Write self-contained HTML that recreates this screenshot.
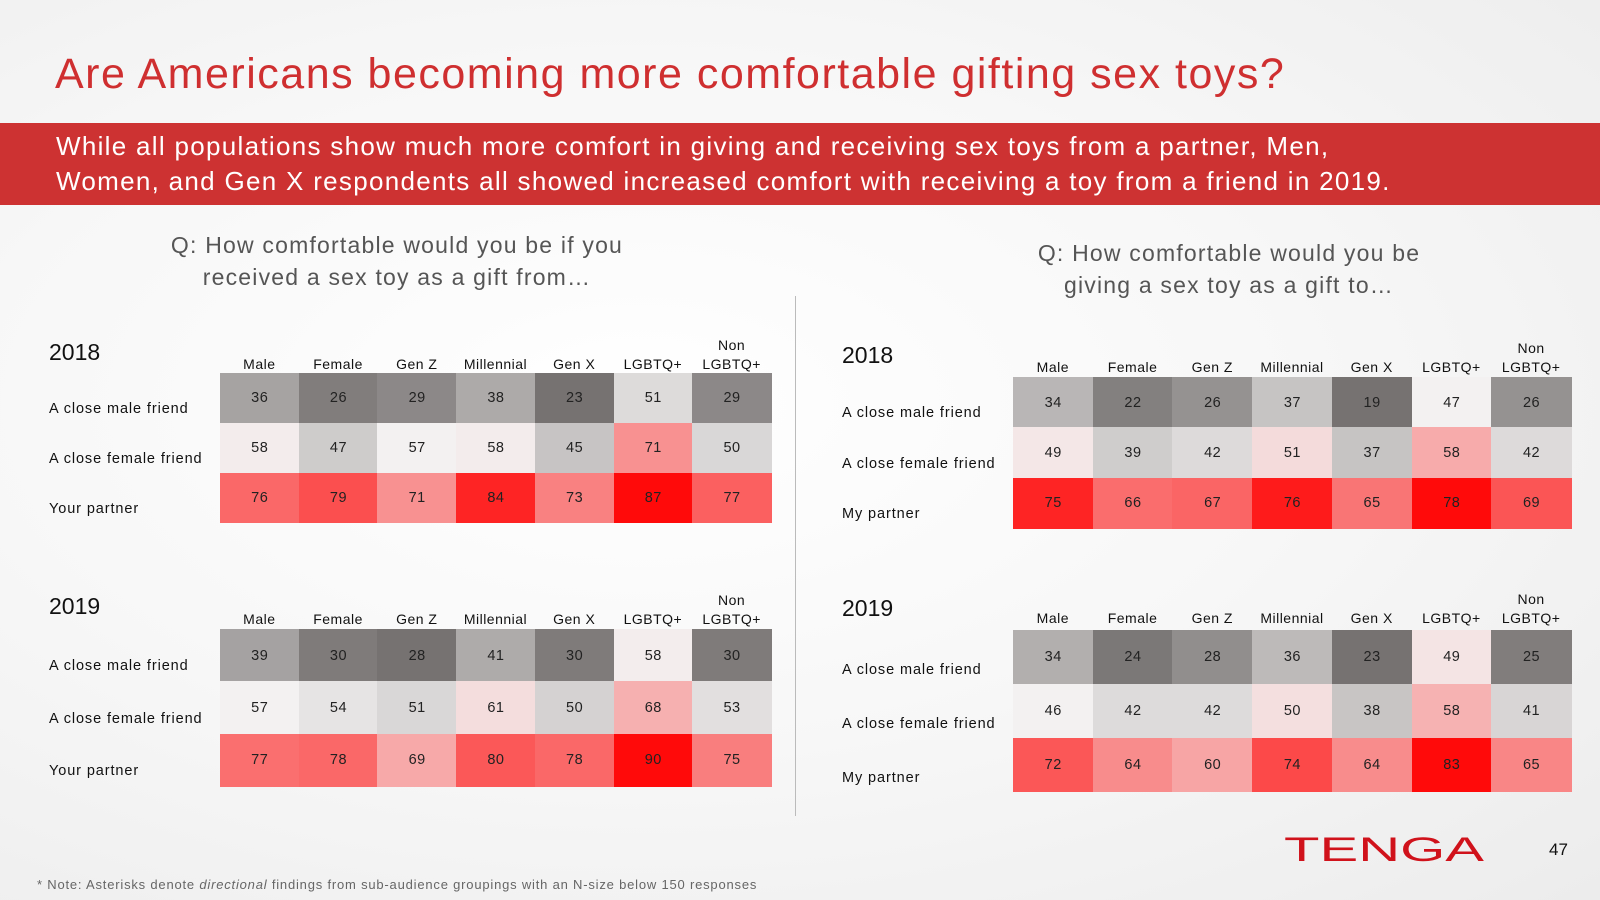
<!DOCTYPE html>
<html><head><meta charset="utf-8">
<style>
html,body{margin:0;padding:0}
body{width:1600px;height:900px;position:relative;overflow:hidden;font-family:"Liberation Sans",sans-serif;background:radial-gradient(ellipse at 40% 45%,#ffffff 0%,#f7f7f7 50%,#ececec 100%)}
.abs{position:absolute}
#title{left:55px;top:50px;font-size:43px;color:#cf2f30;letter-spacing:1.5px;white-space:nowrap}
#band{left:0;top:123px;width:1600px;height:82px;background:#cd3232}
#band div{position:absolute;left:56px;color:#fff;font-size:26px;white-space:nowrap;letter-spacing:1.3px}
.q{font-size:23px;color:#555;text-align:center;line-height:32px;letter-spacing:1.2px}
.year{font-size:23px;color:#111}
.rl{font-size:14.5px;color:#111;white-space:nowrap;letter-spacing:0.9px}
.ch{font-size:14px;color:#111;text-align:center;line-height:19px;letter-spacing:0.5px}
.cell{position:absolute;display:flex;align-items:center;justify-content:center;font-size:14.5px;color:#222;letter-spacing:0.5px}
</style></head><body>
<div class="abs" id="title">Are Americans becoming more comfortable gifting sex toys?</div>
<div class="abs" id="band">
<div style="top:8px">While all populations show much more comfort in giving and receiving sex toys from a partner, Men,</div>
<div style="top:43px">Women, and Gen X respondents all showed increased comfort with receiving a toy from a friend in 2019.</div>
</div>
<div class="abs q" style="left:147px;top:229px;width:500px">Q: How comfortable would you be if you<br>received a sex toy as a gift from…</div>
<div class="abs q" style="left:979px;top:237px;width:500px">Q: How comfortable would you be<br>giving a sex toy as a gift to…</div>
<div class="abs" style="left:795px;top:296px;width:1px;height:520px;background:#bbb"></div>
<div id="tables"></div>
<div class="abs" style="left:37px;top:877px;font-size:13px;color:#666;white-space:nowrap;letter-spacing:0.8px">* Note: Asterisks denote <i>directional</i> findings from sub-audience groupings with an N-size below 150 responses</div>
<svg class="abs" style="left:1284px;top:834px" width="205" height="30">
<text x="0" y="27" font-family="Liberation Sans, sans-serif" font-size="34" fill="#d0121b" textLength="200" lengthAdjust="spacingAndGlyphs">TENGA</text>
</svg>
<div class="abs" style="left:1549px;top:840px;font-size:17px;color:#111">47</div>
<script>
const columns = ["Male","Female","Gen Z","Millennial","Gen X","LGBTQ+","Non LGBTQ+"];
const rowsReceived = ["A close male friend","A close female friend","Your partner"];
const rowsGiving = ["A close male friend","A close female friend","My partner"];
const received2018 = [[36,26,29,38,23,51,29],[58,47,57,58,45,71,50],[76,79,71,84,73,87,77]];
const received2019 = [[39,30,28,41,30,58,30],[57,54,51,61,50,68,53],[77,78,69,80,78,90,75]];
const giving2018 = [[34,22,26,37,19,47,26],[49,39,42,51,37,58,42],[75,66,67,76,65,78,69]];
const giving2019 = [[34,24,28,36,23,49,25],[46,42,42,50,38,58,41],[72,64,60,74,64,83,65]];

function lerp(a,b,t){return a.map((v,i)=>Math.round(v+(b[i]-v)*t));}
function colorScale(vals){
  const s=[...vals].sort((a,b)=>a-b);
  const min=s[0],max=s[s.length-1];
  const mid=(s[Math.floor((s.length-1)/2)]+s[Math.ceil((s.length-1)/2)])/2;
  const lo=[118,114,113],mi=[243,241,241],hi=[255,10,10];
  return v=>{let c; if(v<=mid) c=lerp(lo,mi,(v-min)/(mid-min||1)); else c=lerp(mi,hi,Math.pow((v-mid)/(max-mid||1),1.15)); return `rgb(${c.join(',')})`;};
}
const host=document.getElementById('tables');
function mk(cls,style,text,name){
  const d=document.createElement('div');
  d.className='abs '+cls;
  d.style.cssText=style;
  d.innerHTML=text;
  
  
  host.appendChild(d);
  return d;
}
function table(cfg){
  const {data,rows,year,id}=cfg;
  const cw=(cfg.x1-cfg.x0)/columns.length, rh=(cfg.y1-cfg.y0)/rows.length;
  const sc=colorScale(data.flat());
  mk('year',`left:${cfg.yearX}px;top:${cfg.yearY}px`,year,id+'-year-label');
  columns.forEach((c,i)=>{
    const txt=c==="Non LGBTQ+"?"Non<br>LGBTQ+":c;
    const bottom=cfg.headY;
    const h=c==="Non LGBTQ+"?38:19;
    mk('ch',`left:${cfg.x0+i*cw}px;top:${bottom-h}px;width:${cw}px`,txt,id+'-column-header');
  });
  rows.forEach((r,j)=>{
    mk('rl',`left:${cfg.labelX}px;top:${cfg.y0+j*rh+rh/2+cfg.labelOff-9}px`,r,id+'-row-label');
    data[j].forEach((v,i)=>{
      mk('cell',`left:${cfg.x0+i*cw}px;top:${cfg.y0+j*rh}px;width:${Math.ceil(cw)+0.5}px;height:${Math.ceil(rh)}px;background:${sc(v)}`,v,id+'-cell');
    });
  });
}
table({id:'received-2018',data:received2018,rows:rowsReceived,year:'2018',x0:220,x1:771,y0:373,y1:523,headY:374,yearX:49,yearY:339,labelX:49,labelOff:12});
table({id:'received-2019',data:received2019,rows:rowsReceived,year:'2019',x0:220,x1:771,y0:629,y1:786,headY:629,yearX:49,yearY:593,labelX:49,labelOff:12});
table({id:'giving-2018',data:giving2018,rows:rowsGiving,year:'2018',x0:1013,x1:1571,y0:377,y1:528,headY:377,yearX:842,yearY:342,labelX:842,labelOff:12});
table({id:'giving-2019',data:giving2019,rows:rowsGiving,year:'2019',x0:1013,x1:1571,y0:630,y1:792,headY:628,yearX:842,yearY:595,labelX:842,labelOff:14});
</script>
</body></html>
